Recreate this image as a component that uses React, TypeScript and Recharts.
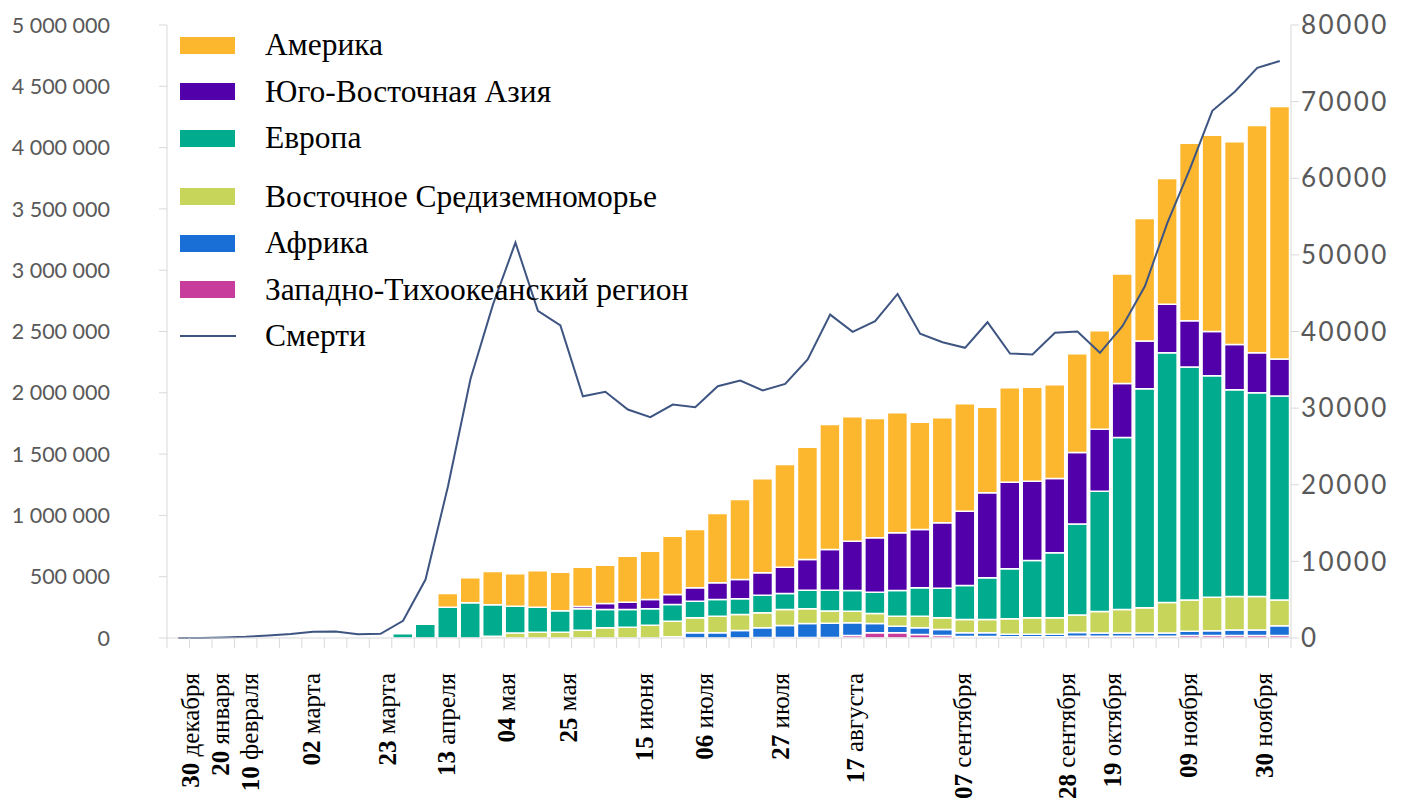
import { Bar, ComposedChart, Legend, Line, XAxis, YAxis } from "recharts";

// недели (понедельник)
const WEEKS = [
  "30.12", "06.01", "13.01", "20.01", "27.01", "03.02", "10.02", "17.02", "24.02", "02.03",
  "09.03", "16.03", "23.03", "30.03", "06.04", "13.04", "20.04", "27.04", "04.05", "11.05",
  "18.05", "25.05", "01.06", "08.06", "15.06", "22.06", "29.06", "06.07", "13.07", "20.07",
  "27.07", "03.08", "10.08", "17.08", "24.08", "31.08", "07.09", "14.09", "21.09", "28.09",
  "05.10", "12.10", "19.10", "26.10", "02.11", "09.11", "16.11", "23.11", "30.11", "07.12",
];

const ZAP_TIKH = [
  0, 0, 0, 0, 0, 3000, 12000, 4000, 0, 0,
  0, 0, 0, 0, 0, 0, 0, 0, 0, 0,
  0, 0, 0, 0, 0, 0, 5000, 5000, 5000, 5000,
  20000, 42000, 42000, 29000, 20000, 12000, 12000, 10000, 10000, 10000,
  15000, 15000, 15000, 15000, 15000, 20000, 20000, 20000, 20000, 20000,
];
const AFRIKA = [
  0, 0, 0, 0, 0, 0, 0, 0, 0, 0,
  0, 0, 0, 0, 0, 0, 0, 0, 0, 0,
  0, 0, 10000, 42000, 42000, 61000, 78000, 97000, 113000, 115000,
  104000, 76000, 54000, 54000, 49000, 30000, 30000, 20000, 20000, 20000,
  30000, 25000, 25000, 25000, 25000, 35000, 40000, 45000, 45000, 80000,
];
const VOST_SRED = [
  0, 0, 0, 0, 0, 0, 0, 0, 0, 0,
  0, 0, 0, 0, 15000, 40000, 47000, 47000, 64000, 83000,
  88000, 104000, 127000, 123000, 136000, 131000, 123000, 130000, 120000, 100000,
  95000, 82000, 82000, 95000, 96000, 109000, 109000, 127000, 135000, 135000,
  143000, 177000, 192000, 206000, 249000, 254000, 272000, 273000, 273000, 210000,
];
const EVROPA = [
  0, 0, 0, 0, 0, 0, 0, 0, 0, 0,
  35000, 113000, 251000, 287000, 256000, 219000, 204000, 175000, 174000, 149000,
  144000, 134000, 136000, 135000, 136000, 128000, 143000, 131000, 152000, 170000,
  168000, 174000, 209000, 231000, 241000, 277000, 340000, 407000, 467000, 530000,
  741000, 980000, 1403000, 1787000, 2038000, 1902000, 1808000, 1686000, 1663000, 1663000,
];
const YUV_AZIYA = [
  0, 0, 0, 0, 0, 0, 0, 0, 0, 0,
  0, 0, 0, 0, 0, 0, 0, 0, 19000, 49000,
  60000, 76000, 82000, 109000, 136000, 157000, 183000, 215000, 250000, 332000,
  403000, 443000, 471000, 476000, 534000, 606000, 693000, 707000, 647000, 606000,
  585000, 505000, 441000, 389000, 395000, 376000, 360000, 369000, 325000, 302000,
];
const AMERIKA = [
  0, 0, 0, 0, 0, 0, 0, 0, 0, 0,
  0, 0, 112000, 204000, 271000, 265000, 297000, 315000, 321000, 313000,
  375000, 394000, 475000, 476000, 566000, 653000, 767000, 837000, 916000, 1019000,
  1014000, 973000, 979000, 875000, 856000, 876000, 699000, 770000, 767000, 764000,
  804000, 804000, 893000, 1000000, 1026000, 1449000, 1600000, 1655000, 1854000, 2061000,
];
const SMERTI = [
  0, 0, 50, 150, 330, 520, 810, 850, 500, 550,
  2250, 7630, 19800, 33800, 43500, 51600, 42700, 40800, 31550, 32130,
  29820, 28810, 30470, 30120, 32860, 33600, 32300, 33170, 36340, 42200,
  39960, 41340, 44900, 39700, 38600, 37870, 41210, 37130, 37000, 39830,
  40000, 37220, 40690, 45910, 54180, 61200, 68800, 71300, 74400, 75300,
];

// подписи оси X и их место (номер недели, дробный)
const LABEL_DAYS = ["30", "20", "10", "02", "23", "13", "04", "25", "15", "06", "27", "17", "07", "28", "19", "09", "30"];
const LABEL_MONTHS = [
  "декабря", "января", "февраля", "марта", "марта", "апреля", "мая", "мая", "июня",
  "июля", "июля", "августа", "сентября", "сентября", "октября", "ноября", "ноября",
];
const LABEL_POS = [0.54, 1.86, 3.18, 5.91, 9.28, 11.93, 14.6, 17.33, 20.72, 23.39, 26.77, 30.09, 34.9, 39.52, 41.54, 44.93, 48.28];

const LEFT_TICKS = [0, 500000, 1000000, 1500000, 2000000, 2500000, 3000000, 3500000, 4000000, 4500000, 5000000];
const RIGHT_TICKS = [0, 10000, 20000, 30000, 40000, 50000, 60000, 70000, 80000];

const SERIES = [
  { key: "zt", name: "Западно-Тихоокеанский регион", color: "#c83c9c", values: ZAP_TIKH },
  { key: "af", name: "Африка", color: "#1a6fd7", values: AFRIKA },
  { key: "vs", name: "Восточное Средиземноморье", color: "#c8d55b", values: VOST_SRED },
  { key: "eu", name: "Европа", color: "#00ab8e", values: EVROPA },
  { key: "uva", name: "Юго-Восточная Азия", color: "#5200a9", values: YUV_AZIYA },
  { key: "am", name: "Америка", color: "#fdb72f", values: AMERIKA },
];
const LINE_COLOR = "#3e5582";
const AXIS = "#d9d9d9";

const data = WEEKS.map((week, i) => {
  const row: Record<string, number | string> = { week, deaths: SMERTI[i] };
  SERIES.forEach((s) => (row[s.key] = s.values[i]));
  return row;
});

const fmtLeft = (v: number) => String(v).replace(/\B(?=(\d{3})+(?!\d))/g, " ");

function WeekTick(props: any) {
  const { x, y, payload, index } = props;
  const half = payload.offset ?? 11.24;
  const band = half * 2;
  const ty = y + 35;
  const labels = LABEL_POS.map((p, k) => ({ p, k })).filter((l) => Math.round(l.p) === index);
  return (
    <g>
      <line x1={x - half} x2={x - half} y1={y} y2={y + 10} stroke={AXIS} />
      {index === WEEKS.length - 1 && <line x1={x + half} x2={x + half} y1={y} y2={y + 10} stroke={AXIS} />}
      {labels.map(({ p, k }) => {
        const lx = x + (p - index) * band;
        return (
          <text
            key={k}
            x={lx}
            y={ty}
            transform={`rotate(-90 ${lx} ${ty})`}
            textAnchor="end"
            dominantBaseline="central"
            fontFamily="Liberation Serif"
            fontSize={25}
            fill="#000"
          >
            <tspan fontWeight="bold">{LABEL_DAYS[k]}</tspan> {LABEL_MONTHS[k]}
          </text>
        );
      })}
    </g>
  );
}

function LegendBox() {
  const rows = [...SERIES].reverse();
  return (
    <div style={{ fontFamily: "Liberation Serif", fontSize: 31.5, color: "#000" }}>
      {rows.map((s, i) => (
        <div
          key={s.key}
          style={{ display: "flex", alignItems: "center", height: 46.5, marginTop: i === 3 ? 12 : 0 }}
        >
          <div style={{ width: 55, height: 17, background: s.color }} />
          <span style={{ marginLeft: 30, whiteSpace: "nowrap" }}>{s.name}</span>
        </div>
      ))}
      <div style={{ display: "flex", alignItems: "center", height: 46.5 }}>
        <div style={{ width: 56, height: 2, background: LINE_COLOR }} />
        <span style={{ marginLeft: 29 }}>Смерти</span>
      </div>
    </div>
  );
}

export default function App() {
  return (
    <div style={{ position: "absolute", left: 0, top: 0, background: "#fff" }}>
      <ComposedChart width={1404} height={809} data={data} margin={{ top: 25, right: 0, bottom: 0, left: 0 }} barCategoryGap={1}>
        <XAxis
          dataKey="week"
          interval={0}
          tickLine={false}
          tickSize={0}
          tickMargin={0}
          axisLine={{ stroke: AXIS }}
          tick={(p: any) => <WeekTick {...p} />}
          height={171}
        />
        <YAxis
          yAxisId="l"
          domain={[0, 5000000]}
          ticks={LEFT_TICKS}
          tickFormatter={fmtLeft}
          width={167}
          tickSize={8}
          tickMargin={49}
          axisLine={{ stroke: AXIS }}
          tickLine={{ stroke: AXIS }}
          tick={{ fill: "#595959", fontSize: 21.5, fontFamily: "Lato" }}
        />
        <YAxis
          yAxisId="r"
          orientation="right"
          domain={[0, 80000]}
          ticks={RIGHT_TICKS}
          width={113}
          tickSize={8}
          tickMargin={2}
          axisLine={{ stroke: AXIS }}
          tickLine={{ stroke: AXIS }}
          tick={{ fill: "#595959", fontSize: 26, fontFamily: "Lato", letterSpacing: 2.5 }}
        />
        {SERIES.map((s) => (
          <Bar
            key={s.key}
            yAxisId="l"
            dataKey={s.key}
            name={s.name}
            stackId="a"
            fill={s.color}
            stroke="#fff"
            strokeWidth={1.5}
            isAnimationActive={false}
          />
        ))}
        <Line
          yAxisId="r"
          type="linear"
          dataKey="deaths"
          name="Смерти"
          stroke={LINE_COLOR}
          strokeWidth={2}
          dot={false}
          isAnimationActive={false}
        />
        <Legend
          layout="vertical"
          align="center"
          verticalAlign="middle"
          wrapperStyle={{ left: 180, top: 22, width: 560, height: 340 }}
          content={() => <LegendBox />}
        />
      </ComposedChart>
    </div>
  );
}
